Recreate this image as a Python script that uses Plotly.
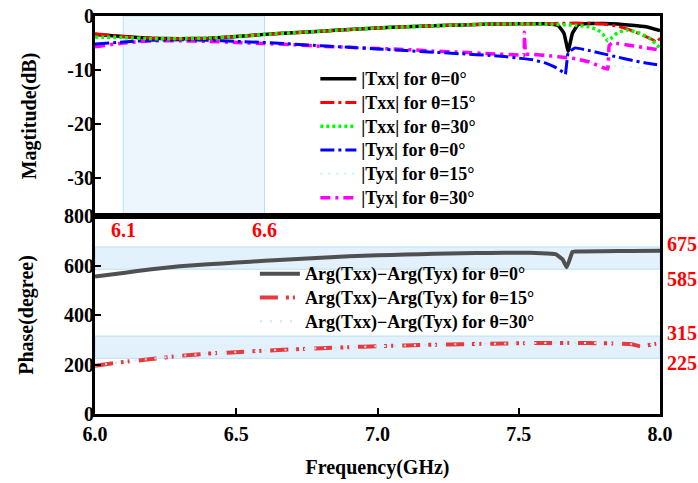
import plotly.graph_objects as go

# ---------------- data ----------------
# Magnitude panel (dB)
F_TXX0 = [6.0, 6.1, 6.2, 6.3, 6.4, 6.5, 6.6, 6.7, 6.8, 6.9, 7.0, 7.1, 7.2, 7.3, 7.4, 7.5, 7.6,
          7.64, 7.66, 7.675, 7.69, 7.71, 7.75, 7.8, 7.85, 7.9, 7.95, 8.0]
TXX0 = [-3.4, -3.8, -4.1, -4.2, -4.1, -3.8, -3.4, -3.1, -2.8, -2.5, -2.2, -2.0, -1.8, -1.65, -1.5, -1.45, -1.45,
        -1.8, -3.2, -6.5, -3.2, -1.6, -1.4, -1.4, -1.5, -1.7, -2.0, -2.7]

F_TXX15 = [6.0, 6.1, 6.2, 6.3, 6.4, 6.5, 6.6, 6.7, 6.8, 6.9, 7.0, 7.1, 7.2, 7.3, 7.4, 7.5, 7.6,
           7.65, 7.7, 7.75, 7.8, 7.85, 7.9, 7.95, 7.98, 7.99, 8.0]
TXX15 = [-3.3, -3.8, -4.1, -4.2, -4.1, -3.8, -3.4, -3.1, -2.8, -2.5, -2.2, -2.0, -1.8, -1.65, -1.5, -1.45, -1.4,
         -1.35, -1.3, -1.35, -1.5, -1.9, -2.7, -3.8, -4.5, -4.0, -4.5]

F_TXX30 = [6.0, 6.1, 6.2, 6.3, 6.4, 6.5, 6.6, 6.7, 6.8, 6.9, 7.0, 7.1, 7.2, 7.3, 7.4, 7.5, 7.6,
           7.7, 7.75, 7.78, 7.8, 7.815, 7.83, 7.85, 7.88, 7.92, 7.96, 7.99, 8.0]
TXX30 = [-3.9, -4.0, -4.2, -4.2, -4.1, -3.8, -3.4, -3.1, -2.8, -2.5, -2.2, -2.0, -1.8, -1.65, -1.5, -1.45, -1.5,
         -1.7, -2.0, -2.6, -3.5, -4.6, -4.0, -3.1, -2.6, -3.0, -4.0, -5.4, -6.0]

F_TYX0 = [6.0, 6.1, 6.2, 6.3, 6.4, 6.5, 6.6, 6.7, 6.8, 6.9, 7.0, 7.1, 7.2, 7.3, 7.4, 7.45, 7.5, 7.55, 7.6,
          7.63, 7.66, 7.665, 7.675, 7.7, 7.75, 7.8, 7.85, 7.9, 7.95, 8.0]
TYX0 = [-5.2, -4.8, -4.5, -4.4, -4.5, -4.7, -4.9, -5.2, -5.5, -5.8, -6.1, -6.4, -6.7, -7.0, -7.3, -7.5, -7.8, -8.1, -8.8,
        -9.5, -10.5, -10.8, -6.8, -5.9, -6.4, -7.0, -7.6, -8.2, -8.7, -9.1]

F_TYX15 = [6.0, 6.2, 6.5, 6.8, 7.0, 7.2, 7.5, 7.7, 7.8, 7.85, 7.9, 7.95, 8.0]
TYX15 = [-5.5, -4.7, -4.9, -5.6, -6.0, -6.6, -7.3, -8.0, -9.0, -9.3, -9.5, -9.8, -10.0]

F_TYX30 = [6.0, 6.1, 6.2, 6.3, 6.4, 6.5, 6.6, 6.7, 6.8, 6.9, 7.0, 7.1, 7.2, 7.3, 7.4, 7.5, 7.518, 7.52, 7.525,
           7.55, 7.6, 7.65, 7.7, 7.75, 7.8, 7.815, 7.82, 7.83, 7.9, 7.95, 8.0]
TYX30 = [-5.7, -5.0, -4.6, -4.6, -4.7, -4.9, -5.1, -5.3, -5.6, -5.8, -6.0, -6.2, -6.5, -6.7, -7.0, -7.2, -7.3, -3.0, -7.0,
         -7.1, -7.3, -7.6, -7.9, -8.5, -9.6, -9.8, -5.5, -5.0, -5.5, -5.9, -6.3]

# Phase panel (degree)
F_PH0 = [6.0, 6.1, 6.2, 6.3, 6.4, 6.5, 6.6, 6.7, 6.8, 6.9, 7.0, 7.1, 7.2, 7.3, 7.4, 7.5, 7.58, 7.63,
         7.655, 7.67, 7.685, 7.69, 7.7, 7.8, 7.9, 8.0]
PH0 = [555, 570, 585, 597, 605, 612, 619, 625, 631, 637, 641, 644, 647, 649, 651, 652, 650, 646,
       625, 593, 640, 655, 657, 658, 659, 660]

F_PH15 = [6.0, 6.1, 6.2, 6.3, 6.4, 6.5, 6.6, 6.7, 6.8, 6.9, 7.0, 7.1, 7.2, 7.3, 7.4, 7.5, 7.6, 7.7,
          7.8, 7.85, 7.9, 7.93, 7.97, 8.0]
PH15 = [195, 210, 222, 235, 244, 250, 256, 261, 266, 270, 274, 277, 280, 282, 284, 286, 287, 287,
        286, 284, 282, 273, 280, 287]

F_PH30 = [6.0, 6.1, 6.2, 6.3, 6.4, 6.5, 6.6, 6.7, 6.8, 6.9, 7.0, 7.1, 7.2, 7.3, 7.4, 7.5, 7.6, 7.7,
          7.78, 7.8, 7.82, 7.85, 7.9, 7.93, 7.97, 8.0]
PH30 = [196, 211, 223, 235, 244, 250, 256, 261, 266, 270, 274, 277, 280, 282, 284, 286, 287, 287,
        286, 265, 285, 284, 282, 274, 281, 287]

MAG_TICKS = [0, -10, -20, -30]
PH_TICKS = [0, 200, 400, 600, 800]
X_TICKS = [6.0, 6.5, 7.0, 7.5, 8.0]
X_TICK_LABELS = ["6.0", "6.5", "7.0", "7.5", "8.0"]
FREQ_BAND = [6.1, 6.6]
PHASE_BANDS = [(585, 675), (225, 315)]

# ---------------- figure ----------------
FONT = "Liberation Serif"
fig = go.Figure()


def lname(s):
    return f"<span style='font-size:18px'><b>{s}</b></span>"


# (name, x, y, colour, dash, width, legend rank); listed in drawing order (bottom to top)
mag = [
    ("|Tyx| for θ=15°", F_TYX15, TYX15, "#c8f4fb", "2px,6px", 2, 5),
    ("|Tyx| for θ=30°", F_TYX30, TYX30, "#ff00ff", "10px,5px,3px,5px", 3.5, 6),
    ("|Tyx| for θ=0°", F_TYX0, TYX0, "#0000ff", "14px,4px,3px,4px", 3, 4),
    ("|Txx| for θ=0°", F_TXX0, TXX0, "#000000", "solid", 3.5, 1),
    ("|Txx| for θ=15°", F_TXX15, TXX15, "#ff0000", "14px,4px,3px,4px", 3, 2),
    ("|Txx| for θ=30°", F_TXX30, TXX30, "#00ff00", "3px,3px", 3.5, 3),
]
for name, fx, fy, col, dash, w, rk in mag:
    fig.add_trace(go.Scatter(x=fx, y=fy, name=lname(name), mode="lines", legendrank=rk,
                             line=dict(color=col, dash=dash, width=w, shape="spline", smoothing=0.3),
                             xaxis="x", yaxis="y", legend="legend"))

ph = [
    ("Arg(Txx)−Arg(Tyx) for θ=0°", F_PH0, PH0, "#505050", "solid", 4),
    ("Arg(Txx)−Arg(Tyx) for θ=15°", F_PH15, PH15, "#e8393c", "18px,8px,3px,4px,2px,9px", 4),
    ("Arg(Txx)−Arg(Tyx) for θ=30°", F_PH30, PH30, "#cfe4f4", "2px,8px", 2),
]
for name, fx, fy, col, dash, w in ph:
    fig.add_trace(go.Scatter(x=fx, y=fy, name=lname(name), mode="lines",
                             line=dict(color=col, dash=dash, width=w, shape="spline", smoothing=0.3),
                             xaxis="x2", yaxis="y2", legend="legend2"))

# shaded bands
fig.add_shape(type="rect", xref="x", yref="y domain", x0=FREQ_BAND[0], x1=FREQ_BAND[1], y0=0, y1=1,
              fillcolor="#eef6fd", line=dict(color="#b9e0f6", width=1), layer="below")
for lo, hi in PHASE_BANDS:
    fig.add_shape(type="rect", xref="x2 domain", yref="y2", x0=0, x1=1, y0=lo, y1=hi,
                  fillcolor="#e3f1fc", line=dict(color="#b9e0f6", width=1), layer="below")

red_font = dict(family=FONT, size=20, color="#ff0000", weight="bold")
for v in FREQ_BAND:
    fig.add_annotation(x=v, y=743, xref="x2", yref="y2", text=f"<b>{v}</b>", showarrow=False,
                       font=red_font, xanchor="center", yanchor="middle")
shifts = {675: 3, 585: -10, 315: 3, 225: -5}
for lo, hi in PHASE_BANDS:
    for v in (hi, lo):
        fig.add_annotation(x=1, y=v, xref="x2 domain", yref="y2", text=f"<b>{v}</b>", showarrow=False,
                           font=red_font, xanchor="left", yanchor="middle", xshift=5, yshift=shifts[v])

tick_font = dict(family=FONT, size=20, color="black", weight="bold")
title_font = dict(family=FONT, size=20, color="black", weight="bold")
axis_common = dict(showline=True, linecolor="black", linewidth=3, mirror=True, showgrid=False,
                   zeroline=False, ticks="inside", ticklen=6, tickwidth=2, tickcolor="black",
                   tickfont=tick_font, automargin=False)

split = 1 - 200 / 398
fig.update_layout(
    width=698, height=483,
    margin=dict(l=95, r=38, t=16, b=69),
    paper_bgcolor="white", plot_bgcolor="white",
    font=dict(family=FONT),
    xaxis=dict(domain=[0, 1], range=[6.0, 8.0], anchor="y", showticklabels=False,
               showline=True, linecolor="black", linewidth=3, mirror=True, showgrid=False,
               zeroline=False, ticks=""),
    yaxis=dict(domain=[split, 1], range=[-37, 0], tickvals=MAG_TICKS, anchor="x",
               ticktext=[f"<b>{t}</b>" for t in MAG_TICKS], ticklabelstandoff=-6,
               title=dict(text="<b>Magtitude(dB)</b>", font=title_font, standoff=26), **axis_common),
    xaxis2=dict(domain=[0, 1], range=[6.0, 8.0], anchor="y2", matches="x", tickvals=X_TICKS,
                ticktext=[f"<b>{t}</b>" for t in X_TICK_LABELS], ticklabelstandoff=0,
                title=dict(text="<b>Frequency(GHz)</b>", font=title_font, standoff=16), **axis_common),
    yaxis2=dict(domain=[0, split], range=[0, 800], tickvals=PH_TICKS, anchor="x2",
                ticktext=[f"<b>{t}</b>" for t in PH_TICKS], ticklabelstandoff=-6,
                title=dict(text="<b>Phase(degree)</b>", font=title_font, standoff=26), **axis_common),
    legend=dict(x=0.39, y=0.885, xanchor="left", yanchor="top", bgcolor="rgba(0,0,0,0)",
                font=dict(family=FONT, size=16, color="black"), tracegroupgap=0, itemwidth=36),
    legend2=dict(x=0.283, y=0.395, xanchor="left", yanchor="top", bgcolor="rgba(0,0,0,0)",
                 font=dict(family=FONT, size=16, color="black"), tracegroupgap=0, itemwidth=40),
    showlegend=True,
)

fig.write_html("out.html", post_script="document.body.style.margin='0';",
               config={"displayModeBar": False})
